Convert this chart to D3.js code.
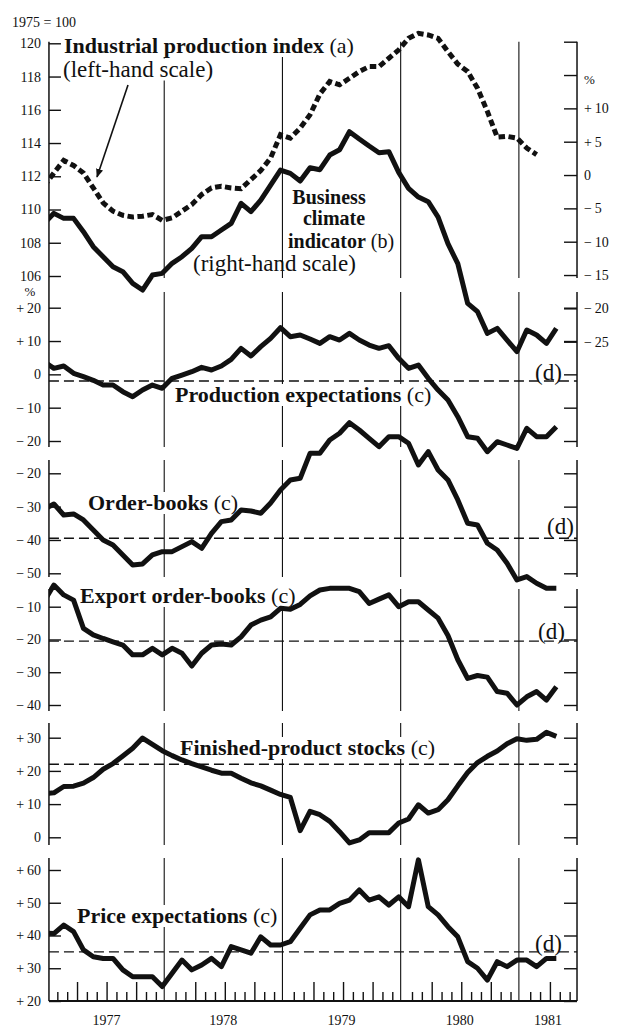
<!DOCTYPE html>
<html><head><meta charset="utf-8">
<script src="https://cdn.jsdelivr.net/npm/d3@7/dist/d3.min.js"></script>
<style>
html,body{margin:0;padding:0;background:#fff;}
svg{display:block;}
</style></head>
<body>
<svg id="chart" width="626" height="1029"></svg>
<script>
// ---------- data: monthly, first value = December 1976 (runs in from the left edge) ----------
const yearLabels = ["1977", "1978", "1979", "1980", "1981"];
const firstMonth = -1;          // months from January 1977
const pointOffset = 0.8;        // where in its month a survey point is plotted

// Industrial production index, 1975 = 100 (Dec 1976 – Feb 1981)
const industrialProduction = [111.4,
  112.2, 112.95, 112.65, 112.2, 111.3, 110.4, 109.9, 109.65, 109.55, 109.6,
  109.7, 109.35, 109.5, 109.9, 110.3, 110.9, 111.3, 111.4, 111.3, 111.25,
  111.8, 112.35, 113.1, 114.5, 114.3, 114.9, 115.7, 116.95, 117.7, 117.5,
  117.9, 118.3, 118.6, 118.6, 119.1, 119.6, 120.3, 120.6, 120.5, 120.3,
  119.5, 118.75, 118.3, 117.3, 115.9, 114.35, 114.4, 114.3, 113.7, 113.3];

// Business climate indicator, % (Dec 1976 – Apr 1981)
const businessClimate = [-7.25,
  -5.75, -6.5, -6.5, -8.5, -10.75, -12.25, -13.75, -14.5, -16.25, -17.25,
  -15.0, -14.75, -13.25, -12.25, -11.0, -9.25, -9.25, -8.25, -7.25, -4.25,
  -5.5, -3.75, -1.5, 0.75, 0.25, -0.9, 1.1, 0.8, 3.0, 3.8,
  6.5, 5.4, 4.35, 3.35, 3.5, 0.4, -2.0, -3.3, -4.0, -6.3,
  -10.3, -13.3, -19.25, -20.5, -23.75, -23.0, -24.75, -26.5, -23.25, -24.0,
  -25.25, -23.0];

const productionExpectations = [3.8,
  1.8, 2.5, 0.3, -0.7, -1.8, -3.2, -3.2, -5.2, -6.7, -4.7,
  -3.2, -4.2, -1.2, -0.2, 0.8, 2.1, 1.3, 2.5, 4.5, 7.8,
  5.5, 8.3, 10.8, 14.0, 11.3, 11.8, 10.6, 9.3, 11.3, 10.3,
  12.3, 10.3, 8.8, 7.8, 8.6, 4.8, 1.8, 2.8, -1.2, -4.7,
  -7.7, -12.7, -18.7, -19.2, -23.2, -20.2, -21.2, -22.2, -16.2, -18.7,
  -18.7, -15.7];

const orderBooks = [-30.8,
  -29.2, -32.5, -32.2, -34.0, -37.0, -40.0, -41.5, -44.5, -47.5, -47.2,
  -44.5, -43.5, -43.5, -42.0, -40.5, -42.5, -38.0, -34.5, -34.0, -31.0,
  -31.3, -32.0, -28.9, -25.0, -22.0, -21.5, -14.0, -14.0, -10.0, -8.0,
  -4.8, -7.0, -9.5, -12.0, -9.0, -9.0, -11.0, -17.5, -13.5, -19.0,
  -22.0, -28.0, -35.0, -35.5, -41.0, -43.0, -47.0, -52.0, -51.0, -53.0,
  -54.5, -54.5];

const exportOrderBooks = [-8.4,
  -3.4, -6.4, -8.0, -16.6, -18.6, -19.7, -20.7, -21.7, -24.7, -24.7,
  -22.7, -24.7, -22.7, -24.2, -28.1, -24.2, -21.7, -21.4, -21.7, -19.2,
  -15.6, -14.1, -13.1, -10.5, -10.8, -9.3, -6.7, -4.9, -4.4, -4.4,
  -4.4, -5.4, -9.0, -7.7, -6.4, -10.0, -8.5, -8.5, -11.0, -13.5,
  -18.8, -26.2, -31.9, -31.0, -31.5, -35.9, -36.4, -40.0, -37.5, -35.9,
  -38.5, -34.4];

const finishedStocks = [13.2,
  13.4, 15.3, 15.4, 16.3, 18.0, 20.5, 22.2, 24.5, 26.8, 29.9,
  28.0, 26.1, 24.6, 23.3, 22.2, 21.2, 20.2, 19.3, 19.3, 17.8,
  16.4, 15.5, 14.2, 12.9, 12.0, 2.0, 7.8, 6.8, 4.8, 1.7,
  -1.7, -0.8, 1.4, 1.4, 1.4, 4.3, 5.5, 9.8, 7.3, 8.3,
  11.3, 15.5, 19.5, 22.5, 24.4, 26.0, 28.2, 29.7, 29.2, 29.5,
  31.6, 30.4];

const priceExpectations = [40.8,
  40.6, 43.2, 41.2, 35.6, 33.5, 33.0, 33.0, 29.5, 27.4, 27.4,
  27.4, 24.4, 28.5, 32.5, 29.5, 31.0, 33.0, 30.5, 36.6, 35.6,
  34.6, 39.6, 37.1, 37.1, 38.1, 42.2, 46.3, 47.8, 47.8, 49.8,
  50.8, 53.9, 50.8, 51.8, 49.3, 51.8, 48.8, 63.1, 48.8, 46.3,
  42.7, 39.6, 32.0, 30.0, 26.4, 32.0, 30.5, 32.5, 32.5, 30.5,
  33.0, 33.0];

// long-term averages (d)
const productionAverage = -2;
const orderAverage = -39.5;
const exportAverage = -20.5;
const stocksAverage = 22;
const priceAverage = 35;

// tick values and labels
const ipiTicks = [120, 118, 116, 114, 112, 110, 108, 106];
const climateTicks = [20, 15, 10, 5, 0, -5, -10, -15, -20, -25];
const climateTickLabels = ["", "", "+\u200910", "+\u20095", "0", "\u2212\u20095", "\u2212\u200910", "\u2212\u200915", "\u2212\u200920", "\u2212\u200925"];
const productionTicks = [20, 10, 0, -10, -20];
const productionTickLabels = ["+\u200920", "+\u200910", "0", "\u2212\u200910", "\u2212\u200920"];
const orderTicks = [-20, -30, -40, -50];
const orderTickLabels = ["\u2212\u200920", "\u2212\u200930", "\u2212\u200940", "\u2212\u200950"];
const exportTicks = [-10, -20, -30, -40];
const exportTickLabels = ["\u2212\u200910", "\u2212\u200920", "\u2212\u200930", "\u2212\u200940"];
const stocksTicks = [30, 20, 10, 0];
const stocksTickLabels = ["+\u200930", "+\u200920", "+\u200910", "0"];
const priceTicks = [60, 50, 40, 30, 20];
const priceTickLabels = ["+\u200960", "+\u200950", "+\u200940", "+\u200930", "+\u200920"];

// ---------- drawing ----------
const W = 626, H = 1029;
const svg = d3.select("#chart");
const FONT = '"Liberation Serif","Times New Roman",Times,serif';
const INK = "#111";

const x = d3.scaleLinear().domain([0, 54]).range([46, 578]); // months since Jan 1977
const X_LEFT = x(0.3), X_RIGHT = x(53.9);
const px = (d, i) => x(firstMonth + i + pointOffset);

const yIpi = d3.scaleLinear().domain([106, 120]).range([276, 43.3]);
const yClimate = d3.scaleLinear().domain([-25, 20]).range([341.7, 41.7]);

const panels = [
  {values: productionExpectations, y: d3.scaleLinear().domain([-20, 20]).range([441, 307.7]),
   ticks: productionTicks, labels: productionTickLabels, avg: productionAverage},
  {values: orderBooks, y: d3.scaleLinear().domain([-50, -20]).range([573.3, 473.3]),
   ticks: orderTicks, labels: orderTickLabels, avg: orderAverage},
  {values: exportOrderBooks, y: d3.scaleLinear().domain([-40, -10]).range([705, 606.7]),
   ticks: exportTicks, labels: exportTickLabels, avg: exportAverage},
  {values: finishedStocks, y: d3.scaleLinear().domain([0, 30]).range([837.3, 737.7]),
   ticks: stocksTicks, labels: stocksTickLabels, avg: stocksAverage},
  {values: priceExpectations, y: d3.scaleLinear().domain([20, 60]).range([1001, 870]),
   ticks: priceTicks, labels: priceTickLabels, avg: priceAverage}
];

const leftSegments = [[41.7, 447], [460, 577], [589, 711], [723, 845], [858, 1001]];
const rightSegments = [[41.7, 278], [292, 447], [460, 577], [589, 711], [723, 845], [858, 1001]];

const defs = svg.append("defs");
defs.append("clipPath").attr("id", "plotclip").append("rect")
  .attr("x", X_LEFT).attr("y", 0).attr("width", W - X_LEFT).attr("height", H);

const gGrid = svg.append("g");
const gLabels = svg.append("g");
const gData = svg.append("g").attr("clip-path", "url(#plotclip)");

// year separator lines
[12, 24, 36, 48].forEach(m => {
  rightSegments.forEach(s => {
    gGrid.append("line").attr("x1", x(m)).attr("x2", x(m)).attr("y1", s[0]).attr("y2", s[1])
      .attr("stroke", INK).attr("stroke-width", 1.1);
  });
});

// axis lines
leftSegments.forEach(s => gGrid.append("line").attr("x1", X_LEFT).attr("x2", X_LEFT)
  .attr("y1", s[0]).attr("y2", s[1]).attr("stroke", INK).attr("stroke-width", 1.5));
rightSegments.forEach(s => gGrid.append("line").attr("x1", X_RIGHT).attr("x2", X_RIGHT)
  .attr("y1", s[0]).attr("y2", s[1]).attr("stroke", INK).attr("stroke-width", 1.5));

function styleAxis(g) {
  g.select(".domain").remove();
  g.selectAll(".tick line").attr("stroke", INK).attr("stroke-width", 1.4);
  g.selectAll(".tick text").attr("fill", INK).style("font-family", FONT).style("font-size", "14px");
}

// left axis of top panel
gGrid.append("g").attr("transform", `translate(${X_LEFT},0)`)
  .call(d3.axisLeft(yIpi).tickValues(ipiTicks).tickSizeInner(-12).tickSizeOuter(0).tickPadding(8).tickFormat(d3.format("d")))
  .call(styleAxis);
// right axis of top panel
gGrid.append("g").attr("transform", `translate(${X_RIGHT},0)`)
  .call(d3.axisRight(yClimate).tickValues(climateTicks).tickSizeInner(-13).tickSizeOuter(0).tickPadding(7)
    .tickFormat((d, i) => climateTickLabels[i]))
  .call(styleAxis);

// lower panels
panels.forEach(p => {
  gGrid.append("g").attr("transform", `translate(${X_LEFT},0)`)
    .call(d3.axisLeft(p.y).tickValues(p.ticks).tickSizeInner(-12).tickSizeOuter(0).tickPadding(8)
      .tickFormat((d, i) => p.labels[i]))
    .call(styleAxis);
  gGrid.append("g").attr("transform", `translate(${X_RIGHT},0)`)
    .call(d3.axisRight(p.y).tickValues(p.ticks).tickSizeInner(-13).tickSizeOuter(0).tickFormat(""))
    .call(styleAxis);
  gGrid.append("line").attr("x1", X_LEFT).attr("x2", X_RIGHT)
    .attr("y1", p.y(p.avg)).attr("y2", p.y(p.avg))
    .attr("stroke", INK).attr("stroke-width", 1.4).attr("stroke-dasharray", "10,5");
});

// bottom time axis
const yBase = 1001;
gGrid.append("line").attr("x1", X_LEFT).attr("x2", X_RIGHT).attr("y1", yBase).attr("y2", yBase)
  .attr("stroke", INK).attr("stroke-width", 1.8);
const monthBounds = d3.range(1, 54).filter(k => k % 12 !== 0);
gGrid.append("g").attr("transform", `translate(0,${yBase})`)
  .call(d3.axisBottom(x).tickValues(monthBounds.filter(k => k % 3 !== 0).map(k => k + 0.15))
    .tickSizeInner(-9).tickSizeOuter(0).tickFormat(""))
  .call(styleAxis);
gGrid.append("g").attr("transform", `translate(0,${yBase})`)
  .call(d3.axisBottom(x).tickValues(monthBounds.filter(k => k % 3 === 0).map(k => k + 0.15))
    .tickSizeInner(-19).tickSizeOuter(0).tickFormat(""))
  .call(styleAxis);
yearLabels.forEach((yl, i) => {
  const a = Math.max(i * 12, 0.3), b = Math.min(i * 12 + 12, 53.9);
  gGrid.append("text").attr("x", x((a + b) / 2)).attr("y", 1025).attr("text-anchor", "middle")
    .attr("fill", INK).style("font-family", FONT).style("font-size", "14px").text(yl);
});

// small unit labels
function small(t, xx, yy, size, anchor) {
  gGrid.append("text").attr("x", xx).attr("y", yy).attr("text-anchor", anchor || "start")
    .attr("fill", INK).style("font-family", FONT).style("font-size", size + "px").text(t);
}
small("1975 = 100", 12, 26.5, 14);
small("%", 584, 84, 13);
small("%", 30, 296, 13, "middle");

// series labels
function label(parts, xx, yy, opts) {
  opts = opts || {};
  const size = opts.size || 22;
  const t = gLabels.append("text").attr("x", xx).attr("y", yy).attr("text-anchor", opts.anchor || "start")
    .attr("fill", INK).style("font-family", FONT).style("font-size", size + "px");
  parts.forEach(p => t.append("tspan").attr("font-weight", p[1] ? "bold" : "normal").text(p[0]));
  if (opts.bg !== false) {
    const bb = t.node().getBBox();
    gLabels.insert("rect", () => t.node()).attr("x", bb.x - 1).attr("y", bb.y + 2)
      .attr("width", bb.width + 2).attr("height", bb.height - 3).attr("fill", "#fff");
  }
}
label([["Industrial production index", 1], [" (a)", 0]], 64, 53);
label([["(left-hand scale)", 0]], 63, 76.5, {size: 23});
label([["Business", 1]], 329, 203.5, {anchor: "middle", bg: false, size: 20});
label([["climate", 1]], 334, 225, {anchor: "middle", bg: false, size: 20});
label([["indicator", 1], [" (b)", 0]], 288, 247.5, {bg: false, size: 20});
label([["(right-hand scale)", 0]], 193, 270.5, {bg: false, size: 23});
label([["Production expectations", 1], [" (c)", 0]], 175, 402);
label([["Order-books", 1], [" (c)", 0]], 88, 510);
label([["Export order-books", 1], [" (c)", 0]], 80, 603);
label([["Finished-product stocks", 1], [" (c)", 0]], 180, 755);
label([["Price expectations", 1], [" (c)", 0]], 77, 923);
label([["(d)", 0]], 535, 380, {bg: false, size: 23});
label([["(d)", 0]], 547, 534, {bg: false, size: 23});
label([["(d)", 0]], 538, 639, {bg: false, size: 23});
label([["(d)", 0]], 535, 951, {bg: false, size: 23});

// series
gData.append("path").datum(industrialProduction)
  .attr("d", d3.line().x(px).y(d => yIpi(d)))
  .attr("fill", "none").attr("stroke", INK).attr("stroke-width", 5).attr("stroke-dasharray", "6.5,3.5");

gData.append("path").datum(businessClimate)
  .attr("d", d3.line().x(px).y(d => yClimate(d)))
  .attr("fill", "none").attr("stroke", INK).attr("stroke-width", 5).attr("stroke-linejoin", "round");

panels.forEach(p => {
  gData.append("path").datum(p.values).attr("d", d3.line().x(px).y(d => p.y(d)))
    .attr("fill", "none").attr("stroke", INK).attr("stroke-width", 5).attr("stroke-linejoin", "round");
});

// arrow from label to the index curve
defs.append("marker").attr("id", "ah").attr("viewBox", "0 0 10 10").attr("refX", 9).attr("refY", 5)
  .attr("markerWidth", 9).attr("markerHeight", 9).attr("orient", "auto").attr("markerUnits", "userSpaceOnUse")
  .append("path").attr("d", "M0,1 L10,5 L0,9 Z").attr("fill", INK);
svg.append("line").attr("x1", 128).attr("y1", 85).attr("x2", 97).attr("y2", 177)
  .attr("stroke", INK).attr("stroke-width", 1.6).attr("marker-end", "url(#ah)");
</script>
</body></html>
